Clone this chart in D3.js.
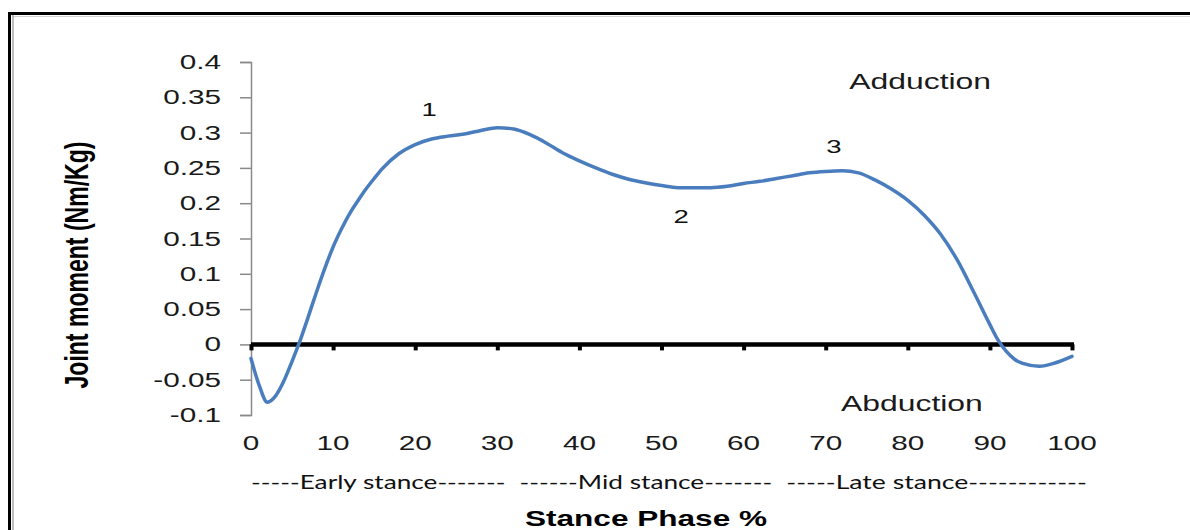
<!DOCTYPE html>
<html>
<head>
<meta charset="utf-8">
<script src="https://cdn.jsdelivr.net/npm/d3@7/dist/d3.min.js"></script>
<style>
  html, body { margin: 0; padding: 0; background: #fff; }
  svg { display: block; }
</style>
</head>
<body>
<svg id="chart" width="1190" height="530"></svg>
<script>
// ---- data ----
const stancePct = [0,1,2,3,4,5,6,7,8,9,10,11,12,13,14,15,16,18,20,22,24,26,28,30,32,34,36,38,40,42,44,46,48,50,52,54,56,58,60,62,64,66,68,70,72,74,76,78,80,82,84,86,88,90,91,92,93,94,96,98,100];
const jointMoment = [-0.02,-0.058,-0.082,-0.073,-0.052,-0.024,0.006,0.04,0.075,0.108,0.138,0.163,0.185,0.203,0.22,0.235,0.249,0.27,0.283,0.291,0.295,0.298,0.303,0.307,0.305,0.297,0.285,0.271,0.26,0.25,0.241,0.234,0.229,0.225,0.222,0.222,0.222,0.224,0.228,0.231,0.235,0.239,0.243,0.245,0.246,0.243,0.233,0.22,0.204,0.183,0.156,0.12,0.075,0.028,0.006,-0.01,-0.021,-0.027,-0.031,-0.026,-0.017];
const yTicks = [-0.1,-0.05,0,0.05,0.1,0.15,0.2,0.25,0.3,0.35,0.4];
const xTicks = [0,10,20,30,40,50,60,70,80,90,100];
const phaseLabels = ["-----Early stance-------", "------Mid stance-------", "-----Late stance------------"];
const phaseRanges = [[0,31],[32.7,63.5],[65.2,101.8]];
const peakLabels = ["1","2","3"];
const peakPos = [[21.7,0.333],[52.4,0.181],[71,0.281]];
const regionLabels = ["Adduction","Abduction"];
const regionPos = [[81.5,0.372],[80.5,-0.084]];
const xTitle = "Stance Phase %";
const yTitle = "Joint moment (Nm/Kg)";

// ---- layout ----
const SX = 1.45; // horizontal stretch of the reference text
const svg = d3.select("#chart");
const x = d3.scaleLinear().domain([0,100]).range([251,1072]);
const y = d3.scaleLinear().domain([-0.1,0.4]).range([415,62]);
const ARIAL = "'Liberation Sans', Arial, Helvetica, sans-serif";

// frame
svg.append("line").attr("x1",8).attr("x2",1190).attr("y1",13.5).attr("y2",13.5).attr("stroke","#000").attr("stroke-width",3);
svg.append("line").attr("x1",9.5).attr("x2",9.5).attr("y1",12).attr("y2",530).attr("stroke","#000").attr("stroke-width",3);
svg.append("line").attr("x1",12).attr("x2",1190).attr("y1",16.5).attr("y2",16.5).attr("stroke","#d0d0d0").attr("stroke-width",1.2);
svg.append("line").attr("x1",13).attr("x2",13).attr("y1",15).attr("y2",530).attr("stroke","#a8a8a8").attr("stroke-width",1.5);

// y axis
const yAxis = d3.axisLeft(y).tickValues(yTicks).tickSize(11).tickPadding(9.7)
  .tickFormat(d => String(+d.toFixed(2)));
const gy = svg.append("g").attr("transform","translate(251,0)").call(yAxis);
gy.select(".domain").attr("stroke","#8a8a8a").attr("stroke-width",1.5);
gy.selectAll(".tick line").attr("stroke","#8a8a8a").attr("stroke-width",1.5);
gy.selectAll(".tick text")
  .attr("font-family",ARIAL).attr("font-size",20.5).attr("fill","#1a1a1a")
  .attr("transform",`scale(${SX},1)`)
  .attr("x", -30/SX);

// x axis (zero line, thick)
const xAxis = d3.axisBottom(x).tickValues(xTicks).tickSize(6).tickFormat("");
const gx = svg.append("g").attr("transform",`translate(0,${y(0)})`).call(xAxis);
gx.select(".domain").attr("stroke","#000").attr("stroke-width",4.5).attr("d",`M${x(0)},0H${x(100)+2}`);
gx.selectAll(".tick line").attr("stroke","#000").attr("stroke-width",4);

// x tick labels at bottom
svg.append("g").selectAll("text").data(xTicks).join("text")
  .attr("transform", d => `translate(${x(d)},443) scale(${SX},1)`)
  .attr("text-anchor","middle").attr("dy","0.35em")
  .attr("font-family",ARIAL).attr("font-size",20.5).attr("fill","#1a1a1a")
  .text(d => d);

// curve
const line = d3.line().x((d,i) => x(stancePct[i])).y(d => y(d)).curve(d3.curveMonotoneX);
svg.append("path").datum(jointMoment).attr("d",line)
  .attr("fill","none").attr("stroke","#4a7dbd").attr("stroke-width",3.5)
  .attr("stroke-linejoin","round").attr("stroke-linecap","round");

// peak labels
svg.append("g").selectAll("text").data(peakLabels).join("text")
  .attr("transform",(d,i) => `translate(${x(peakPos[i][0])},${y(peakPos[i][1])}) scale(${SX},1)`)
  .attr("text-anchor","middle").attr("dy","0.35em")
  .attr("font-family",ARIAL).attr("font-size",19).attr("fill","#111")
  .text(d => d);

// region labels
svg.append("g").selectAll("text").data(regionLabels).join("text")
  .attr("transform",(d,i) => `translate(${x(regionPos[i][0])},${y(regionPos[i][1])}) scale(${SX},1)`)
  .attr("text-anchor","middle").attr("dy","0.35em")
  .attr("font-family",ARIAL).attr("font-size",22).attr("fill","#1a1a1a")
  .text(d => d);

// phase labels
svg.append("g").selectAll("text").data(phaseLabels).join("text")
  .attr("x",(d,i) => x(phaseRanges[i][0]))
  .attr("y",482).attr("dy","0.35em")
  .attr("textLength",(d,i) => x(phaseRanges[i][1]) - x(phaseRanges[i][0]))
  .attr("lengthAdjust","spacingAndGlyphs")
  .attr("font-family","Lato, 'Open Sans', sans-serif").attr("font-size",19).attr("fill","#111")
  .text(d => d);

// x title
svg.append("text")
  .attr("x",646).attr("y",518).attr("dy","0.35em").attr("text-anchor","middle")
  .attr("textLength",242).attr("lengthAdjust","spacingAndGlyphs")
  .attr("font-family",ARIAL).attr("font-weight","bold").attr("font-size",22).attr("fill","#000")
  .text(xTitle);

// y title (rotated, glyph height stretched)
svg.append("text")
  .attr("transform",`translate(76,265) rotate(-90) scale(1,${SX})`)
  .attr("text-anchor","middle").attr("dy","0.35em")
  .attr("textLength",247).attr("lengthAdjust","spacingAndGlyphs")
  .attr("font-family",ARIAL).attr("font-weight","bold").attr("font-size",23).attr("fill","#000")
  .text(yTitle);
</script>
</body>
</html>
